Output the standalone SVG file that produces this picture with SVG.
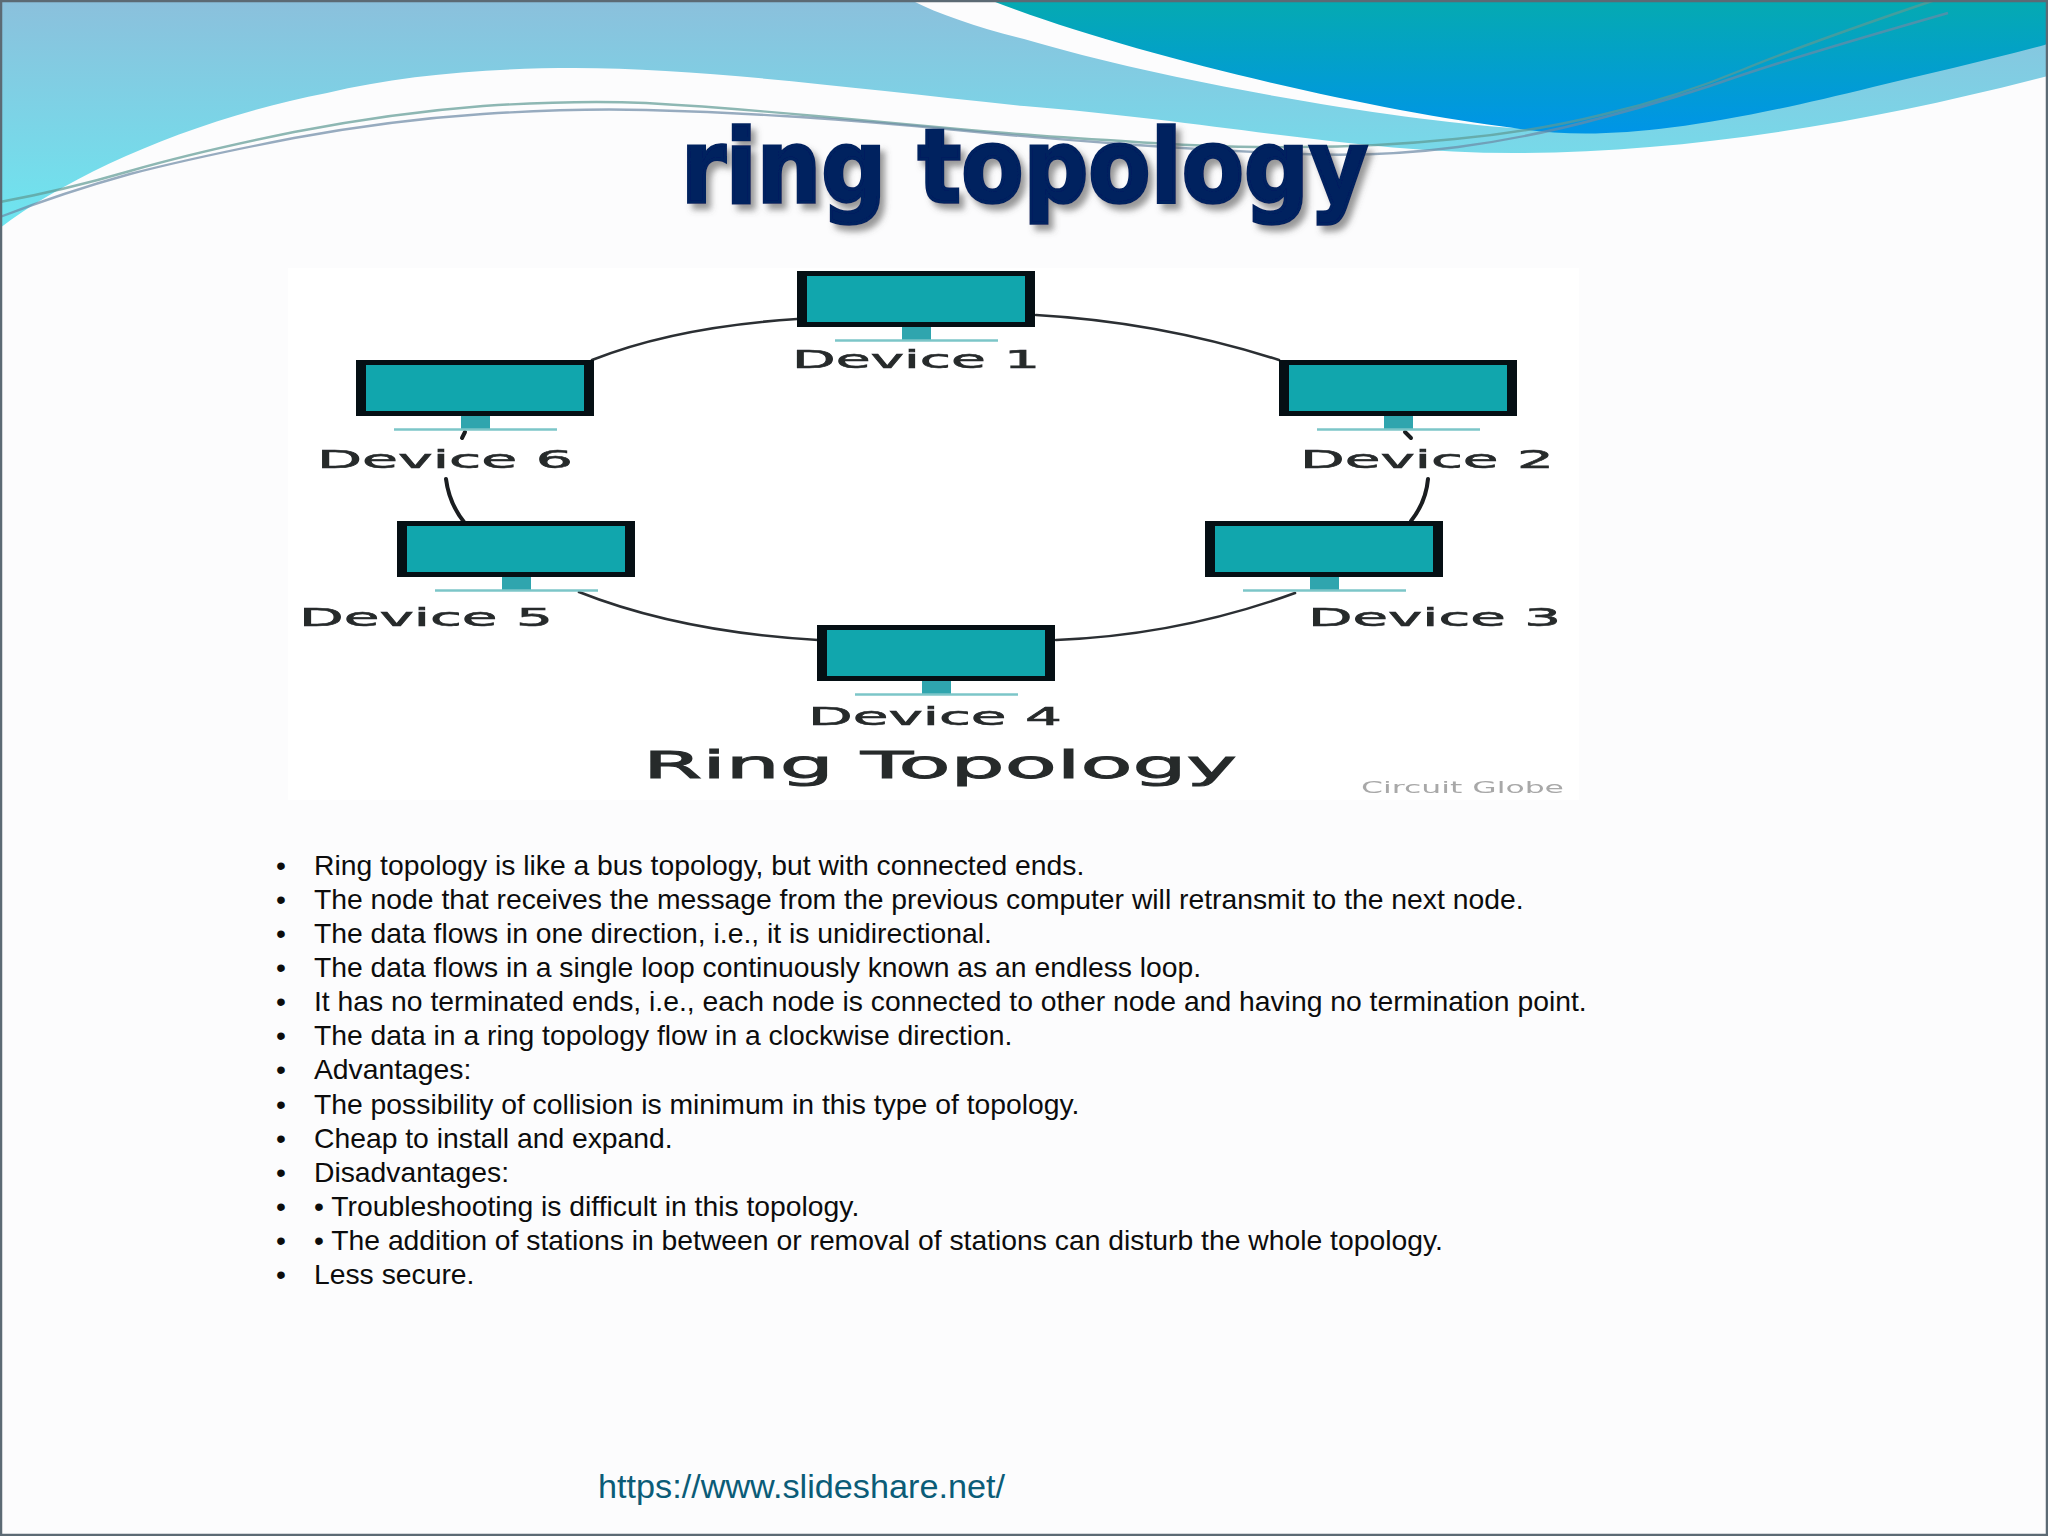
<svg xmlns="http://www.w3.org/2000/svg" width="2048" height="1536" viewBox="0 0 2048 1536">
<style>
.lbl{font-family:"DejaVu Sans",sans-serif;font-size:25px;fill:#262a2c;stroke:#262a2c;stroke-width:.6px;filter:url(#soft)}
.body{font-family:"Liberation Sans",Arial,sans-serif;font-size:28.3px;fill:#0c0c0c}
.wire{fill:none;stroke:#2b2f33;stroke-width:2.6;stroke-linecap:round}
.wireb{fill:none;stroke:#1a1d20;stroke-width:4;stroke-linecap:round}
.sw{fill:none;stroke-width:2.4;opacity:.7;filter:url(#soft)}
</style>
<defs>
<linearGradient id="gl" gradientUnits="userSpaceOnUse" x1="0" y1="0" x2="0" y2="230"><stop offset="0" stop-color="#8bc0dc"/><stop offset="1" stop-color="#6de6f0"/></linearGradient>
<linearGradient id="gd" gradientUnits="userSpaceOnUse" x1="0" y1="0" x2="0" y2="130"><stop offset="0" stop-color="#05aab1"/><stop offset="1" stop-color="#0095e6"/></linearGradient>
<filter id="soft" x="-5%" y="-20%" width="110%" height="140%"><feGaussianBlur stdDeviation=".6"/></filter>
<filter id="shadow" x="-5%" y="-10%" width="110%" height="130%"><feDropShadow dx="5" dy="6" stdDeviation="3" flood-color="#555" flood-opacity=".6"/></filter>
<g id="monitor">
<rect x="0" y="0" width="238" height="56" fill="#050f14"/>
<rect x="10" y="5" width="218" height="46" fill="#11a6ad"/>
<rect x="105" y="56" width="29" height="13" fill="#2fa5ae"/>
<path d="M38 69.5H201" stroke="#7cc6c8" stroke-width="2.6" fill="none"/>
</g>
</defs>
<rect id="background" width="2048" height="1536" fill="#fcfcfd"/>
<path id="wave-light" fill="url(#gl)" d="M0,228 C70,175 190,120 327,93 C400,75 490,68 575,68 C700,68 850,88 1024,106 C1220,122 1360,153 1514,153 C1680,153 1860,125 2048,76 L2048,44 L1514,128 C1400,120 1180,85 1024,39 C980,28 940,15 911,0 L0,0 Z"/>
<path id="wave-dark" fill="url(#gd)" d="M990,0 C1130,55 1370,110 1514,128 C1600,142 1700,130 1873,87 C1930,73 1990,60 2048,44 L2048,0 Z"/>
<path class="sw" stroke="#5f9a94" d="M0,202 Q65,190 130,171 Q196,152 294,132 Q392,113 483,106 Q575,100 646,103 Q718,107 816,116 Q914,125 969,130 Q1024,135 1122,141 Q1220,148 1298,147 Q1377,147 1455,139 Q1533,132 1605,114 Q1677,97 1742,70 Q1808,43 1935,0"/>
<path class="sw" stroke="#6d8aa6" d="M0,217 Q65,192 130,174 Q196,157 294,138 Q392,120 483,114 Q575,108 646,110 Q718,112 783,116 Q849,120 936,128 Q1024,137 1122,144 Q1220,151 1301,154 Q1383,157 1458,147 Q1533,137 1605,117 Q1677,98 1742,75 Q1808,53 1948,13"/>
<rect id="frame" x="1" y="1" width="2046" height="1534" fill="none" stroke="#5c6a74" stroke-width="2.5"/>
<text id="title" x="681" y="202" textLength="687" lengthAdjust="spacingAndGlyphs" font-family="'DejaVu Sans',sans-serif" font-weight="700" font-size="102" fill="#03205f" stroke="#03205f" stroke-width="3.5" filter="url(#shadow)">ring topology</text>
<rect id="picture" x="288" y="268" width="1291" height="532" fill="#ffffff"/>
<g id="connectors">
<path class="wire" d="M592,360 Q675,327 797,319"/>
<path class="wire" d="M1036,315 Q1160,322 1279,360"/>
<path class="wireb" d="M1405,432 L1411,438"/>
<path class="wireb" d="M1428,479 Q1426,502 1411,521"/>
<path class="wireb" d="M465,432 L462,438"/>
<path class="wireb" d="M446,479 Q449,503 464,522"/>
<path class="wire" d="M579,592 Q680,632 818,640"/>
<path class="wire" d="M1295,593 Q1180,635 1056,640"/>
</g>
<g id="device-1"><use href="#monitor" x="797" y="271"/><text class="lbl" x="792" y="368" textLength="248" lengthAdjust="spacingAndGlyphs">Device 1</text></g>
<g id="device-2"><use href="#monitor" x="1279" y="360"/><text class="lbl" x="1300" y="468" textLength="254" lengthAdjust="spacingAndGlyphs">Device 2</text></g>
<g id="device-3"><use href="#monitor" x="1205" y="521"/><text class="lbl" x="1308" y="626" textLength="253" lengthAdjust="spacingAndGlyphs">Device 3</text></g>
<g id="device-4"><use href="#monitor" x="817" y="625"/><text class="lbl" x="808" y="725" textLength="254" lengthAdjust="spacingAndGlyphs">Device 4</text></g>
<g id="device-5"><use href="#monitor" x="397" y="521"/><text class="lbl" x="299" y="626" textLength="254" lengthAdjust="spacingAndGlyphs">Device 5</text></g>
<g id="device-6"><use href="#monitor" x="356" y="360"/><text class="lbl" x="317" y="468" textLength="256" lengthAdjust="spacingAndGlyphs">Device 6</text></g>
<text id="picture-title" x="643" y="778" textLength="594" lengthAdjust="spacingAndGlyphs" font-family="'DejaVu Sans',sans-serif" font-size="37" fill="#262a2c" stroke="#262a2c" stroke-width=".9" filter="url(#soft)">Ring Topology</text>
<text id="credit" x="1361" y="793" textLength="203" lengthAdjust="spacingAndGlyphs" font-family="'DejaVu Sans',sans-serif" font-size="15" fill="#a8a8a8" filter="url(#soft)">Circuit Globe</text>
<g id="bullets" class="body">
<text x="276" y="875">•</text><text x="314" y="875">Ring topology is like a bus topology, but with connected ends.</text>
<text x="276" y="909">•</text><text x="314" y="909">The node that receives the message from the previous computer will retransmit to the next node.</text>
<text x="276" y="943">•</text><text x="314" y="943">The data flows in one direction, i.e., it is unidirectional.</text>
<text x="276" y="977">•</text><text x="314" y="977">The data flows in a single loop continuously known as an endless loop.</text>
<text x="276" y="1011">•</text><text x="314" y="1011">It has no terminated ends, i.e., each node is connected to other node and having no termination point.</text>
<text x="276" y="1045">•</text><text x="314" y="1045">The data in a ring topology flow in a clockwise direction.</text>
<text x="276" y="1079">•</text><text x="314" y="1079">Advantages:</text>
<text x="276" y="1114">•</text><text x="314" y="1114">The possibility of collision is minimum in this type of topology.</text>
<text x="276" y="1148">•</text><text x="314" y="1148">Cheap to install and expand.</text>
<text x="276" y="1182">•</text><text x="314" y="1182">Disadvantages:</text>
<text x="276" y="1216">•</text><text x="314" y="1216">• Troubleshooting is difficult in this topology.</text>
<text x="276" y="1250">•</text><text x="314" y="1250">• The addition of stations in between or removal of stations can disturb the whole topology.</text>
<text x="276" y="1284">•</text><text x="314" y="1284">Less secure.</text>
</g>
<text id="footer" x="598" y="1498" textLength="407" lengthAdjust="spacingAndGlyphs" font-family="'Liberation Sans',Arial,sans-serif" font-size="33" fill="#0b5c78">https://www.slideshare.net/</text>
</svg>
